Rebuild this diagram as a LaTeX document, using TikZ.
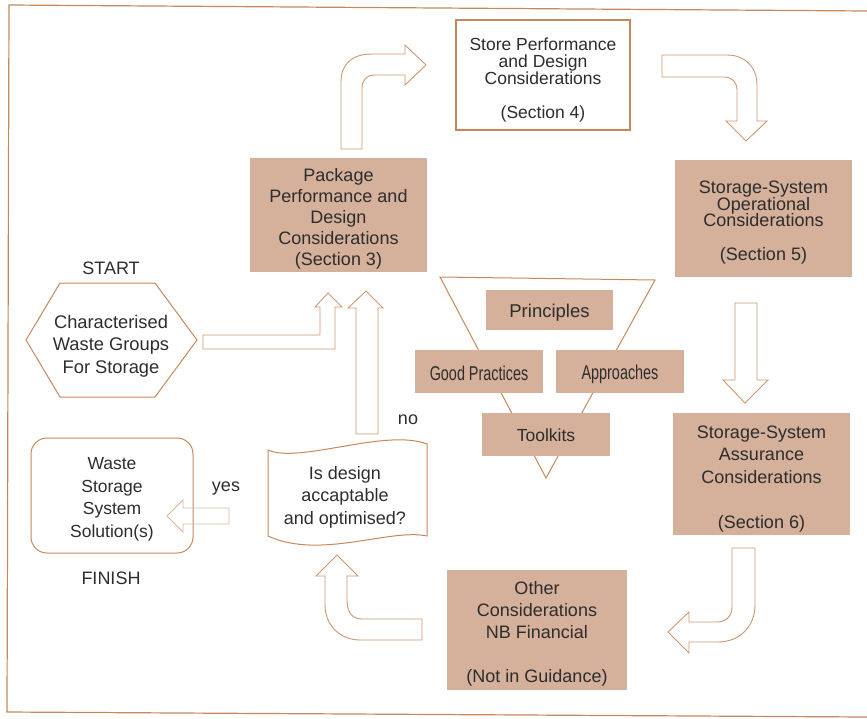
\documentclass[tikz,border=0pt]{standalone}
\usepackage{fontspec}
\setmainfont{Liberation Sans}
\newfontfamily\narrowfont[FakeStretch=0.72]{Liberation Sans}
\definecolor{tanfill}{RGB}{213,176,154}
\definecolor{brownline}{RGB}{200,135,90}
\definecolor{arrowline}{RGB}{208,150,110}
\definecolor{txt}{RGB}{45,45,45}
\tikzset{
  tanbox/.style={fill=tanfill, draw=none, inner sep=0pt},
  whitebox/.style={fill=white, draw=brownline, line width=1.3pt, inner sep=0pt},
  blockarrow/.style={draw=arrowline, line width=0.9pt, fill=white, line join=miter},
  label/.style={text=txt, inner sep=0pt, align=center},
  f18/.style={font={\fontsize{18}{22.5}\selectfont}},
}
\begin{document}
\begin{tikzpicture}[x=1pt,y=-1pt]
\useasboundingbox (0,0) rectangle (867,718);
% frame
\coordinate (ftl) at (9,5);
\coordinate (ftr) at (867,11);
\coordinate (fbl) at (7,712);
\coordinate (fbr) at (867,717);
\draw[brownline, line width=1.2pt] (ftr) -- (ftl) -- (fbl) -- (fbr);

% triangle
\draw[brownline, line width=1pt, line join=miter] (440,277) -- (655,280) -- (546,478) -- cycle;

% boxes
\node[whitebox, minimum width=174pt, minimum height=110pt] (store) at (543,75) {};
\node[label, font={\fontsize{17.5}{16.8}\selectfont}] (storet) at ([yshift=-5pt]store.center)
  {Store Performance\\and Design\\Considerations\\[16.8pt](Section 4)};
\node[tanbox, minimum width=177pt, minimum height=114pt] (pkg) at (338.5,215) {};
\node[label, font={\fontsize{18}{21}\selectfont}] (pkgt) at ([yshift=-4pt]pkg.center)
  {Package\\Performance and\\Design\\Considerations\\(Section 3)};
\node[tanbox, minimum width=177pt, minimum height=117pt] (oper) at (763.5,218.5) {};
\node[label, font={\fontsize{18}{16.8}\selectfont}] (opert) at ([yshift=-4pt]oper.center)
  {Storage-System\\Operational\\Considerations\\[16.8pt](Section 5)};
\node[tanbox, minimum width=177pt, minimum height=122pt] (assur) at (761.5,474) {};
\node[label, f18] (assurt) at ([yshift=-5pt]assur.center)
  {Storage-System\\Assurance\\Considerations\\[22.5pt](Section 6)};
\node[tanbox, minimum width=180pt, minimum height=120pt] (other) at (537,630) {};
\node[label, font={\fontsize{18}{22}\selectfont}] (othert) at ([yshift=-4pt]other.center)
  {Other\\Considerations\\NB Financial\\[22pt](Not in Guidance)};

\node[tanbox, minimum width=127pt, minimum height=40pt] (princ) at (549.5,310) {};
\node[label, font={\fontsize{18.5}{22}\selectfont}] (princt) at ([yshift=-3pt]princ.center) {Principles};
\node[tanbox, minimum width=128pt, minimum height=43pt] (good) at (479,371.5) {};
\node[label, font={\narrowfont\fontsize{20}{22}\selectfont}] (goodt) at ([yshift=-1.5pt]good.center) {Good Practices};
\node[tanbox, minimum width=128pt, minimum height=43pt] (appr) at (620,371.5) {};
\node[label, font={\narrowfont\fontsize{20}{22}\selectfont}] (apprt) at ([yshift=-3pt]appr.center) {Approaches};
\node[tanbox, minimum width=128pt, minimum height=43pt] (tool) at (546,434.5) {};
\node[label, font={\fontsize{17.5}{22}\selectfont}] (toolt) at ([yshift=-1pt]tool.center) {Toolkits};

% hexagon start
\draw[brownline, line width=1pt, line join=miter] (26,340) -- (60,283) -- (155,283) -- (197,340) -- (155,397) -- (60,397) -- cycle;
\node[label, font={\fontsize{18.3}{22.5}\selectfont}] (start) at (111,346) {Characterised\\Waste Groups\\For Storage};
\node[label, f18] (startlbl) at (111,268) {START};

% finish box
\node[draw=brownline, line width=1pt, rounded corners=16pt, minimum width=162pt, minimum height=115pt,
  inner sep=0pt] (finish) at (112,495.5) {};
\node[label, font={\fontsize{17.5}{22.5}\selectfont}] (finisht) at ([yshift=-4pt]finish.center)
  {Waste\\Storage\\System\\Solution(s)};
\node[label, f18] (finlbl) at (111,578) {FINISH};

% decision tape shape
\draw[brownline, line width=1pt] (268,450) .. controls (300,464) and (385,428) .. (427,444)
  -- (427,536) .. controls (390,528) and (320,560) .. (268,536) -- cycle;
\node[label, f18] (dec) at (345,497) {Is design\\accaptable\\and optimised?};
\node[label, f18] (yes) at (226,489) {yes};
\node[label, f18] (no) at (408,420) {no};

% block arrows
% package -> store
\draw[blockarrow] (341,149) -- (341,82) .. controls (341,64) and (352,54) .. (372,54) -- (405,54) -- (405,45)
  -- (426,65) -- (405,85) -- (405,75) -- (374,75) .. controls (367,75) and (362,80) .. (362,88) -- (362,149) -- cycle;
% store -> operational
\draw[blockarrow] (662,55) -- (727,55) .. controls (745,55) and (757,67) .. (757,85) -- (757,121) -- (767,121)
  -- (746,141) -- (726,121) -- (737,121) -- (737,90) .. controls (737,82) and (732,77) .. (724,77) -- (662,77) -- cycle;
% operational -> assurance
\draw[blockarrow] (735,303) -- (757,303) -- (757,380) -- (768,380) -- (745,403) -- (723,380) -- (735,380) -- cycle;
% assurance -> other
\draw[blockarrow] (732,548) -- (755,548) -- (755,605) .. controls (755,626) and (740,642) .. (718,642) -- (689,642)
  -- (689,653) -- (668,632) -- (689,612) -- (689,622) -- (717,622) .. controls (726,622) and (732,616) .. (732,607) -- cycle;
% other -> decision
\draw[blockarrow] (422,619) -- (422,640) -- (360,640) .. controls (340,640) and (325,625) .. (325,605) -- (325,576)
  -- (316,576) -- (337,555) -- (358,576) -- (347,576) -- (347,600) .. controls (347,612) and (352,619) .. (362,619) -- cycle;
% start -> package
\draw[blockarrow] (203,335) -- (320,335) -- (320,307) -- (315,307) -- (328,293) -- (342,307) -- (335,307)
  -- (335,349) -- (203,349) -- cycle;
% decision no -> package
\draw[blockarrow] (356,434) -- (356,308) -- (348,308) -- (366,291) -- (383,308) -- (378,308) -- (378,434) -- cycle;
% decision yes -> finish
\draw[draw=arrowline!70, line width=0.9pt, line join=miter] (229,508) -- (183,508) -- (183,500) -- (167,516)
  -- (183,532) -- (183,524) -- (229,524) -- cycle;
\end{tikzpicture}
\end{document}
